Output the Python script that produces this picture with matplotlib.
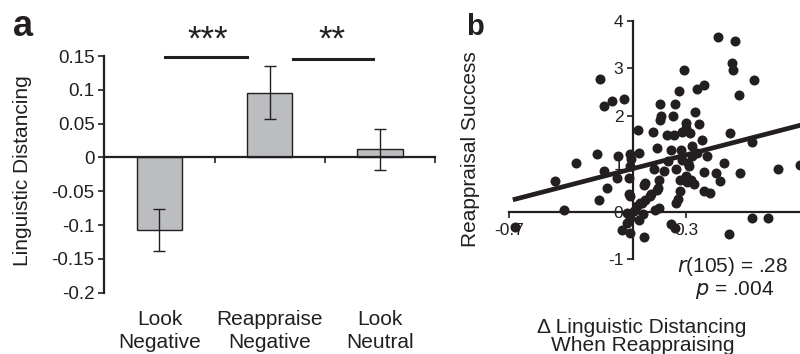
import numpy as np
from matplotlib import pyplot as plt

plt.rcParams['font.family'] = ['Liberation Sans', 'DejaVu Sans']

# panel a data
conditions = ['Look\nNegative', 'Reappraise\nNegative', 'Look\nNeutral']
distancing = [-0.108, 0.096, 0.012]
distancing_err = [0.031, 0.039, 0.030]
a_yticks = [0.15, 0.1, 0.05, 0, -0.05, -0.1, -0.15, -0.2]
a_yticklabels = ['0.15', '0.1', '0.05', '0', '-0.05', '-0.1', '-0.15', '-0.2']

# panel b data
delta_distancing = [
    0.479, 0.577, 0.558, 0.564, 0.683, 0.602, 0.287, 0.40, 0.362, 0.262,
    -0.189, -0.166, -0.117, -0.053, 0.155, 0.24, 0.157, 0.155, 0.226, 0.35,
    0.30, 0.372, 0.028, 0.113, 0.19, 0.23, 0.28, 0.325, 0.30, 0.39,
    0.551, 0.674, 0.136, 0.217, 0.273, 0.334, 0.362, 0.419, -0.204, -0.087,
    -0.015, 0.036, -0.01, -0.321, -0.44, -0.166, -0.091, -0.147, -0.015, -0.025,
    0.117, 0.177, 0.245, 0.277, 0.315, 0.328, 0.306, 0.343, 0.404, 0.472,
    0.491, 0.513, 0.608, 0.819, 0.947, 0.145, 0.064, 0.136, 0.102, 0.07,
    0.042, -0.015, -0.194, -0.389, 0.268, 0.253, 0.245, 0.145, 0.023, 0.004,
    -0.034, -0.015, 0.032, 0.057, -0.034, -0.062, -0.015, 0.064, 0.215, 0.24,
    0.542, 0.674, 0.764, -0.666, 0.40, 0.438, 0.309, 0.334, 0.268, 0.143,
    0.098, 0.126, 0.051, -0.025, 0.30, 0.20, 0.07,
]
reappraisal_success = [
    3.66, 3.57, 3.12, 2.97, 2.76, 2.45, 2.97, 2.66, 2.56, 2.52,
    2.77, 2.22, 2.31, 2.36, 2.26, 2.25, 2.01, 1.92, 2.0, 2.08,
    1.86, 1.84, 1.70, 1.66, 1.61, 1.61, 1.66, 1.65, 1.75, 1.51,
    1.65, 1.46, 1.34, 1.30, 1.30, 1.37, 1.23, 1.16, 1.20, 1.16,
    1.20, 1.22, 1.10, 1.01, 0.64, 0.85, 0.71, 0.50, 0.95, 0.71,
    0.90, 0.85, 0.90, 1.09, 0.95, 0.67, 0.62, 0.57, 0.83, 0.81,
    0.64, 1.02, 0.80, 0.90, 0.98, 0.67, 0.55, 0.46, 0.36, 0.25,
    0.18, 0.32, 0.25, 0.04, 0.43, 0.27, 0.17, 0.08, 0.11, 0.01,
    -0.03, -0.13, -0.17, -0.06, -0.24, -0.38, -0.45, -0.53, -0.27, -0.34,
    -0.48, -0.13, -0.13, -0.32, 0.43, 0.39, 1.02, 1.16, 0.67, 0.50,
    0.32, 0.04, 0.18, 0.36, 0.75, 1.05, 0.60,
]
fit_intercept = 0.90
fit_slope = 0.96
fit_range = [-0.68, 1.3]
b_yticks = [-1, 0, 1, 2, 3, 4]
b_xticks = [-0.7, 0.3]

ink = '#231f20'

fig = plt.figure(figsize=(8, 3.54), dpi=100)

# ---- panel a: bars
ax = fig.add_axes([0.1304, 0.1733, 0.4134, 0.6685])
x = np.arange(len(conditions))
ax.bar(x, distancing, width=0.41, color='#bcbdc1', edgecolor=ink, linewidth=1.0, zorder=2)
ax.errorbar(x, distancing, yerr=distancing_err, fmt='none', ecolor=ink,
            elinewidth=1.0, capsize=4, capthick=1.0, zorder=3)
ax.set_xlim(-0.5, 2.5)
ax.set_ylim(-0.2, 0.15)
ax.spines['top'].set_visible(False)
ax.spines['right'].set_visible(False)
ax.spines['bottom'].set_position(('data', 0))
ax.spines['left'].set_linewidth(1.6)
ax.spines['bottom'].set_linewidth(1.6)
ax.spines['left'].set_color(ink)
ax.spines['bottom'].set_color(ink)
ax.set_yticks(a_yticks)
ax.set_yticklabels(a_yticklabels, fontsize=13.5, color=ink)
ax.set_xticks([0.5, 1.5, 2.5])
ax.set_xticklabels([])
ax.tick_params(axis='y', direction='out', length=4, width=1.2, color=ink, pad=3)
ax.tick_params(axis='x', direction='out', length=4, width=1.2, color=ink)

# category labels under the plot
for i, lab in enumerate(conditions):
    for j, line in enumerate(lab.split('\n')):
        ax.text(i, -0.2 - 0.048 - j * 0.034, line, ha='center', va='baseline',
                fontsize=15, color=ink, clip_on=False)

# significance bars
ax.plot([0.05, 0.79], [0.148, 0.148], color=ink, lw=2.2, clip_on=False)
ax.plot([1.21, 1.94], [0.146, 0.146], color=ink, lw=2.2, clip_on=False)
ax.text(0.44, 0.160, '***', ha='center', va='baseline', fontsize=25,
        color=ink, clip_on=False)
ax.text(1.563, 0.160, '**', ha='center', va='baseline', fontsize=25,
        color=ink, clip_on=False)

fig.text(23 / 800, 1 - 170.5 / 354, 'Linguistic Distancing', rotation=90,
         ha='center', va='center', fontsize=15, color=ink)
fig.text(13 / 800, 1 - 36 / 354, 'a', fontsize=26, fontweight='bold',
         ha='left', va='baseline', color=ink)

# ---- panel b: scatter
bx = fig.add_axes([0.6366, 0.2675, 0.4418, 0.674])
bx.scatter(delta_distancing, reappraisal_success, s=52, color=ink, linewidths=0, zorder=3)
fit_y = [fit_intercept + fit_slope * v for v in fit_range]
bx.plot(fit_range, fit_y, color=ink, lw=3.4, solid_capstyle='butt', zorder=3)
bx.set_xlim(-0.7, 1.3)
bx.set_ylim(-1, 4)
bx.spines['top'].set_visible(False)
bx.spines['right'].set_visible(False)
bx.spines['left'].set_position(('data', 0))
bx.spines['bottom'].set_position(('data', 0))
for s in ['left', 'bottom']:
    bx.spines[s].set_linewidth(1.6)
    bx.spines[s].set_color(ink)
bx.set_yticks(b_yticks)
bx.set_yticklabels([str(v) for v in b_yticks], fontsize=12.5, color=ink)
bx.set_xticks(b_xticks)
bx.set_xticklabels([str(v) for v in b_xticks], fontsize=12.5, color=ink)
bx.tick_params(axis='both', direction='out', length=4, width=1.2, color=ink, pad=3)
bx.tick_params(axis='x', pad=4)

fig.text(471 / 800, 1 - 149 / 354, 'Reappraisal Success', rotation=90,
         ha='center', va='center', fontsize=15, color=ink)
fig.text(733 / 800, 1 - 267 / 354, r'$\it{r}$(105) = .28', ha='center', va='center',
         fontsize=15, color=ink)
fig.text(735 / 800, 1 - 290 / 354, r'$\it{p}$ = .004', ha='center', va='center',
         fontsize=15, color=ink)
fig.text(642 / 800, 1 - 333 / 354, 'Δ Linguistic Distancing', ha='center', va='baseline',
         fontsize=15, color=ink)
fig.text(643 / 800, 1 - 351 / 354, 'When Reappraising', ha='center', va='baseline',
         fontsize=15, color=ink)
fig.text(466 / 800, 1 - 35 / 354, 'b', fontsize=21, fontweight='bold',
         ha='left', va='baseline', color=ink)

plt.savefig('out.png', dpi=100)
